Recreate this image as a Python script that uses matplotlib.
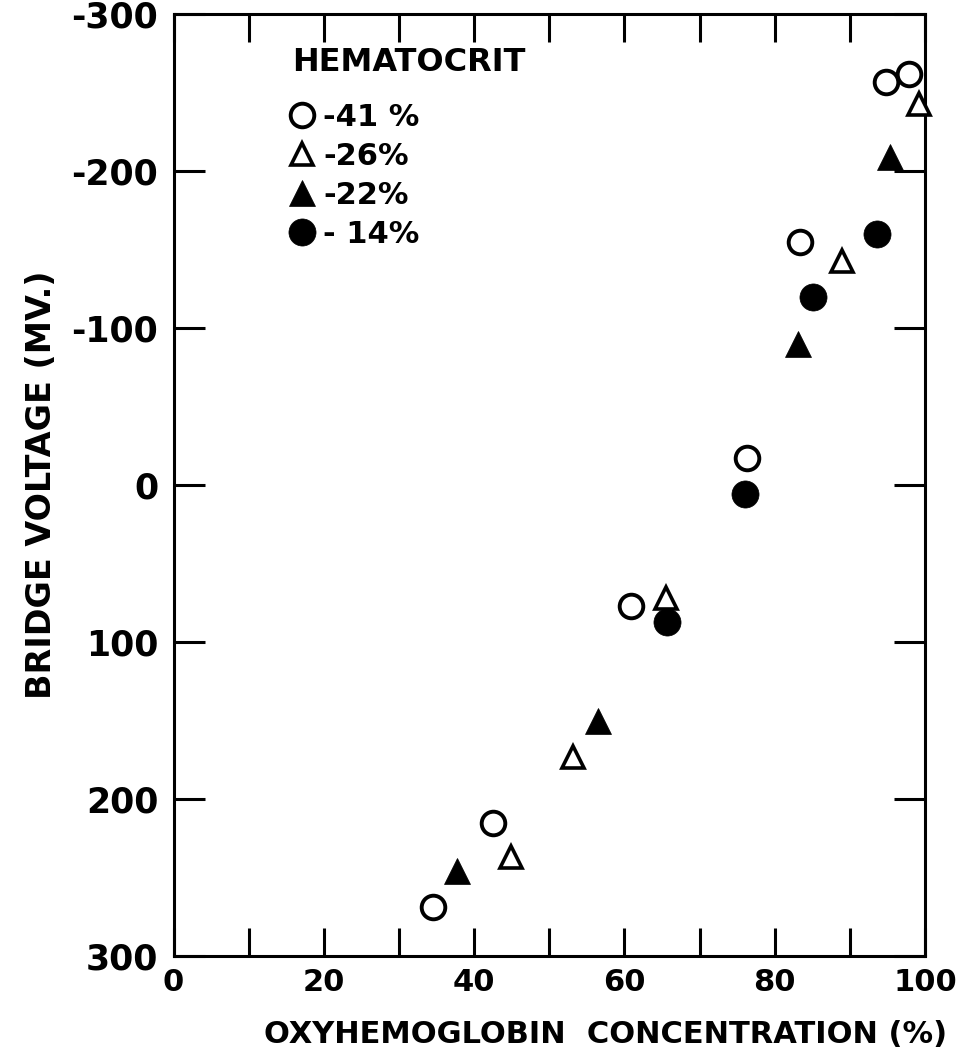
import numpy as np
import matplotlib.pyplot as plt

# values: oxyhemoglobin (%) vs bridge voltage (mV), one set per hematocrit
legend_title = "HEMATOCRIT"
hct_labels = ["-41 %", "-26%", "-22%", "- 14%"]

oxy_41 = [34.5, 42.5, 60.9, 76.3, 83.4, 94.8, 97.9]
mv_41 = [269, 215, 77, -17, -155, -257, -262]

oxy_26 = [44.9, 53.2, 65.5, 89.0, 99.2]
mv_26 = [237, 173, 72, -143, -243]

oxy_22 = [37.7, 56.5, 83.1, 95.3]
mv_22 = [246, 150, -90, -209]

oxy_14 = [65.7, 76.0, 85.1, 93.6]
mv_14 = [87, 6, -120, -160]

xticks = [0, 20, 40, 60, 80, 100]
xtick_labels = ["0", "20", "40", "60", "80", "100"]
yticks = [-300, -200, -100, 0, 100, 200, 300]
ytick_labels = ["-300", "-200", "-100", "0", "100", "200", "300"]

plt.rcParams['font.family'] = ['DejaVu Sans']
plt.rcParams['font.weight'] = 'bold'

fig = plt.figure(figsize=(9.59, 10.56), dpi=100)
ax = fig.add_axes([0.181, 0.0947, 0.7836, 0.892])

ink = 'black'
ax.plot(oxy_41, mv_41, ls='none', marker='o', ms=17, mfc='white', mec=ink, mew=2.8,
        clip_on=False, label=hct_labels[0], zorder=3)
ax.plot(oxy_26, mv_26, ls='none', marker='^', ms=16, mfc='white', mec=ink, mew=2.6,
        clip_on=False, label=hct_labels[1], zorder=3)
ax.plot(oxy_22, mv_22, ls='none', marker='^', ms=19, mfc=ink, mec=ink, mew=0.5,
        clip_on=False, label=hct_labels[2], zorder=3)
ax.plot(oxy_14, mv_14, ls='none', marker='o', ms=19.5, mfc=ink, mec=ink, mew=0.5,
        clip_on=False, label=hct_labels[3], zorder=4)

ax.set_xlim(0, 100)
ax.set_ylim(300, -300)

ax.set_xticks(xticks)
ax.set_xticklabels(xtick_labels)
ax.set_xticks(np.arange(0, 101, 10), minor=True)
ax.set_yticks(yticks)
ax.set_yticklabels(ytick_labels)

for s in ax.spines.values():
    s.set_linewidth(2.2)

ax.tick_params(axis='x', which='both', direction='in', length=20, width=2.2,
               top=True, bottom=True, labelsize=22, pad=9)
ax.tick_params(axis='y', which='both', direction='in', length=22, width=2.2,
               left=True, right=True, labelsize=25, pad=11)

ax.set_ylabel("BRIDGE VOLTAGE (MV.)", fontsize=24, fontweight='bold', labelpad=10)
fig.text(0.631, 0.02, "OXYHEMOGLOBIN  CONCENTRATION (%)", fontsize=22,
         fontweight='bold', ha='center', va='center')

# legend title as its own text, legend entries below it
ax.text(0.158, 0.9485, legend_title, transform=ax.transAxes, fontsize=23,
        fontweight='bold', ha='left', va='center')
leg = ax.legend(loc='upper left', bbox_to_anchor=(0.152, 0.906),
                frameon=False, fontsize=22, handlelength=0.9,
                handletextpad=0.25, labelspacing=0.33, borderpad=0, borderaxespad=0)

fig.savefig("out.png", dpi=100)
